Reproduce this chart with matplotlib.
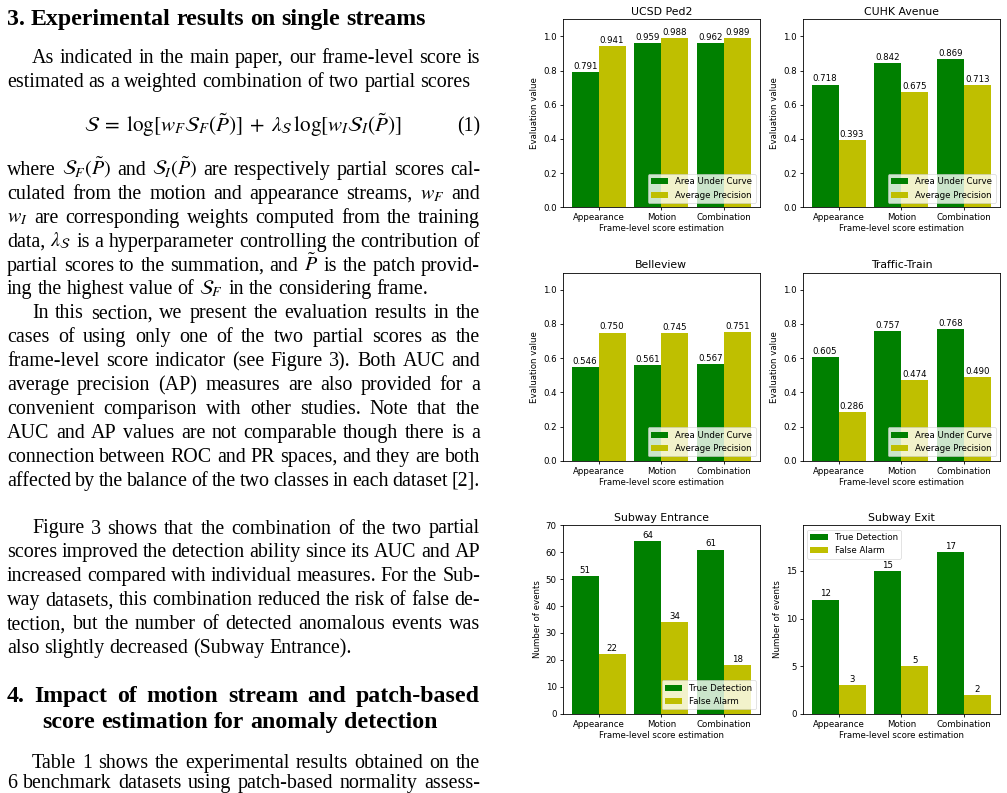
import matplotlib
matplotlib.use('Agg')
import matplotlib.pyplot as plt
import numpy as np

# ---------------- data ----------------
methods = ['Appearance', 'Motion', 'Combination']
eval_names = ['Area Under Curve', 'Average Precision']
event_names = ['True Detection', 'False Alarm']

ucsd_auc = [0.791, 0.959, 0.962]
ucsd_ap = [0.941, 0.988, 0.989]
cuhk_auc = [0.718, 0.842, 0.869]
cuhk_ap = [0.393, 0.675, 0.713]
belle_auc = [0.546, 0.561, 0.567]
belle_ap = [0.750, 0.745, 0.751]
traffic_auc = [0.605, 0.757, 0.768]
traffic_ap = [0.286, 0.474, 0.490]
entr_true = [51, 64, 61]
entr_false = [22, 34, 18]
exit_true = [12, 15, 17]
exit_false = [3, 5, 2]

eval_ticks = [0.0, 0.2, 0.4, 0.6, 0.8, 1.0]
entr_ticks = [0, 10, 20, 30, 40, 50, 60, 70]
exit_ticks = [0, 5, 10, 15]

# ---------------- figure ----------------
W, H, DPI = 1007, 793, 100
plt.rcParams['mathtext.fontset'] = 'stix'
plt.rcParams['font.family'] = 'DejaVu Sans'
fig = plt.figure(figsize=(W / DPI, H / DPI), dpi=DPI)
fig.patch.set_facecolor('white')
renderer = fig.canvas.get_renderer()


def fx(x):
    return x / W


def fy(y):
    return 1 - y / H


def px_axes(left, top, right, bottom):
    return fig.add_axes([left / W, 1 - bottom / H, (right - left) / W, (bottom - top) / H])


FS = 6.2
LW = 0.6


def chart(ax, title, s1, s2, names, ylabel, fmt, ylim, yticks, loc):
    x = np.arange(len(methods))
    w = 0.43
    b1 = ax.bar(x - w / 2, s1, w, color='g', label=names[0])
    b2 = ax.bar(x + w / 2, s2, w, color='y', label=names[1])
    ax.bar_label(b1, fmt=fmt, padding=0.8, fontsize=FS)
    ax.bar_label(b2, fmt=fmt, padding=0.8, fontsize=FS)
    ax.set_xticks(x, methods)
    ax.set_ylim(*ylim)
    ax.set_yticks(yticks)
    if fmt == '%.3f':
        ax.set_yticklabels(['%.1f' % t for t in yticks])
    ax.set_title(title, fontsize=7.8, pad=3.4)
    ax.set_xlabel('Frame-level score estimation', fontsize=FS, labelpad=1.5)
    ax.set_ylabel(ylabel, fontsize=FS, labelpad=2.5)
    ax.tick_params(labelsize=FS, length=2.2, width=LW, pad=2.2)
    for s in ax.spines.values():
        s.set_linewidth(LW)
    leg = ax.legend(loc=loc, fontsize=FS, framealpha=0.8, borderaxespad=0.5)
    leg.get_frame().set_linewidth(LW * 0.8)


C1 = (562.7, 760.0)
C2 = (802.7, 1000.0)
R1 = (19.3, 207.3)
R2 = (272.7, 460.7)
R3 = (525.3, 713.7)

chart(px_axes(C1[0], R1[0], C1[1], R1[1]), 'UCSD Ped2', ucsd_auc, ucsd_ap, eval_names,
      'Evaluation value', '%.3f', (0, 1.1), eval_ticks, 'lower right')
chart(px_axes(C2[0], R1[0], C2[1], R1[1]), 'CUHK Avenue', cuhk_auc, cuhk_ap, eval_names,
      'Evaluation value', '%.3f', (0, 1.1), eval_ticks, 'lower right')
chart(px_axes(C1[0], R2[0], C1[1], R2[1]), 'Belleview', belle_auc, belle_ap, eval_names,
      'Evaluation value', '%.3f', (0, 1.1), eval_ticks, 'lower right')
chart(px_axes(C2[0], R2[0], C2[1], R2[1]), 'Traffic-Train', traffic_auc, traffic_ap, eval_names,
      'Evaluation value', '%.3f', (0, 1.1), eval_ticks, 'lower right')
chart(px_axes(C1[0], R3[0], C1[1], R3[1]), 'Subway Entrance', entr_true, entr_false, event_names,
      'Number of events', '%d', (0, 70), entr_ticks, 'lower right')
chart(px_axes(C2[0], R3[0], C2[1], R3[1]), 'Subway Exit', exit_true, exit_false, event_names,
      'Number of events', '%d', (0, 19.8), exit_ticks, 'upper left')

# ---------------- text column ----------------
SERIF = 'Liberation Serif'
XL, XR = 7.0, 480.0
INDENT = 25.0


def measure(s, size, weight='normal', family=SERIF):
    t = fig.text(0, 0, s, fontsize=size, family=family, weight=weight)
    w = t.get_window_extent(renderer).width
    t.remove()
    return w


def line(text, base, size, x0=XL, x1=XR, weight='normal', justify=True):
    words = text.split()
    ts = [fig.text(0, 0, w, fontsize=size, family=SERIF, weight=weight,
                   va='baseline', ha='left', color='black') for w in words]
    widths = [t.get_window_extent(renderer).width for t in ts]
    avail = x1 - x0
    space = 0.25 * size * DPI / 72
    total = sum(widths)
    if len(words) > 1 and (justify or total + space * (len(words) - 1) > avail):
        gap = (avail - total) / (len(words) - 1)
    else:
        gap = space
    x = x0
    for t, w in zip(ts, widths):
        t.set_position((fx(x), fy(base)))
        x += w + gap


# fit body and heading sizes to the measured natural widths of the reference lines
body_ref = 'estimated as a weighted combination of two partial scores'
BODY = 14.5 * 461.0 / measure(body_ref, 14.5)
head_ref = '3. Experimental results on single streams'
HEAD = 17.4 * 417.0 / measure(head_ref, 17.4, 'bold')

step = 23.9
line(head_ref, 25.0, HEAD, weight='bold', justify=False)

line('As indicated in the main paper, our frame-level score is', 63.3, BODY, x0=XL + INDENT)
line(body_ref, 63.3 + step, BODY, justify=False)

eq = (r'$\mathcal{S}\;=\;\log[w_F\mathcal{S}_F(\tilde{P})]\;+\;\lambda_{\mathcal{S}}\,'
      r'\log[w_I\mathcal{S}_I(\tilde{P})]$')
eq_w = measure(eq, BODY)
EQ = min(BODY * 1.06, BODY * 325.0 / eq_w)
fig.text(fx(242.5), fy(131.7), eq, fontsize=EQ, ha='center', va='baseline')
fig.text(fx(XR), fy(131.7), '(1)', fontsize=BODY, family=SERIF, ha='right', va='baseline')

p1 = [
    r'where $\mathcal{S}_F(\tilde{P})$ and $\mathcal{S}_I(\tilde{P})$ are respectively partial scores cal-',
    r'culated from the motion and appearance streams, $w_F$ and',
    r'$w_I$ are corresponding weights computed from the training',
    r'data, $\lambda_{\mathcal{S}}$ is a hyperparameter controlling the contribution of',
    r'partial scores to the summation, and $\tilde{P}$ is the patch provid-',
    r'ing the highest value of $\mathcal{S}_F$ in the considering frame.',
]
p2 = [
    'In this section, we present the evaluation results in the',
    'cases of using only one of the two partial scores as the',
    'frame-level score indicator (see Figure 3).  Both AUC and',
    'average precision (AP) measures are also provided for a',
    'convenient comparison with other studies.  Note that the',
    'AUC and AP values are not comparable though there is a',
    'connection between ROC and PR spaces, and they are both',
    'affected by the balance of the two classes in each dataset [2].',
]
p3 = [
    'Figure 3 shows that the combination of the two partial',
    'scores improved the detection ability since its AUC and AP',
    'increased compared with individual measures. For the Sub-',
    'way datasets, this combination reduced the risk of false de-',
    'tection, but the number of detected anomalous events was',
    'also slightly decreased (Subway Entrance).',
]
p4 = [
    'Table 1 shows the experimental results obtained on the',
    '6 benchmark datasets using patch-based normality assess-',
]


def paragraph(lines, bases, indent_first, last_justified=False):
    for i, (s, b) in enumerate(zip(lines, bases)):
        x0 = XL + (INDENT if (i == 0 and indent_first) else 0)
        last = i == len(lines) - 1
        line(s, b, BODY, x0=x0, justify=(not last) or last_justified)


paragraph(p1, [175.0 + i * step for i in range(6)], False)
paragraph(p2, [175.0 + (6 + i) * step for i in range(8)], True)
paragraph(p3, [533.5 + i * step for i in range(6)], True)

line('4. Impact of motion stream and patch-based', 701.7, HEAD, weight='bold')
line('score estimation for anomaly detection', 728.3, HEAD, x0=42.7, weight='bold', justify=False)

# last line of the page sits at the very bottom edge; keep descenders inside the image
paragraph(p4, [768.3, 788.0], True, last_justified=True)

fig.savefig('out.png', dpi=DPI)
